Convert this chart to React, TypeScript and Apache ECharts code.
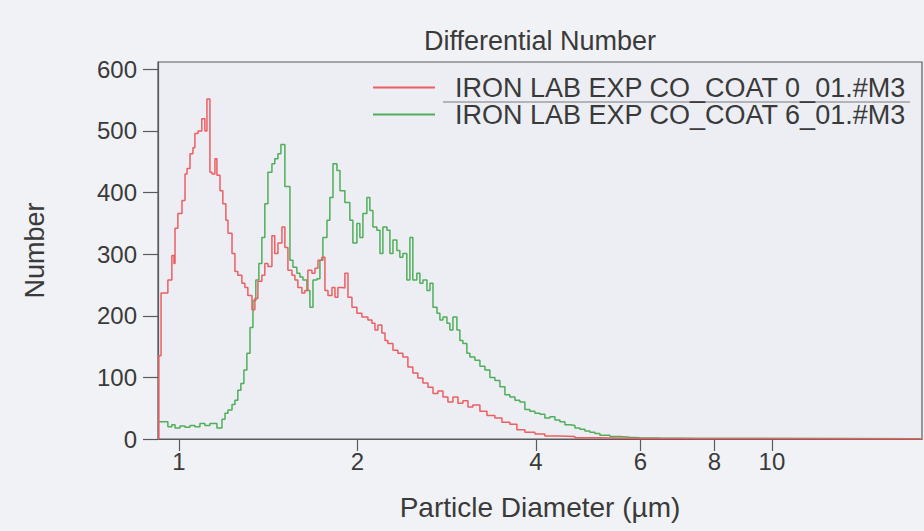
import React, { useEffect, useRef } from "react";
import * as echarts from "echarts";

// Left bin edges (µm) and counts
const diameterRed = [
  0.922, 0.925, 0.933, 0.958, 0.973, 0.981, 0.985, 0.996, 1.012, 1.024, 1.032, 1.044,
  1.056, 1.064, 1.077, 1.093, 1.106, 1.115, 1.128, 1.137, 1.150, 1.159, 1.173, 1.186,
  1.200, 1.210, 1.229, 1.243, 1.257, 1.277, 1.292, 1.307, 1.328, 1.343, 1.359, 1.380,
  1.396, 1.413, 1.435, 1.451, 1.469, 1.492, 1.509, 1.527, 1.551, 1.569, 1.587, 1.612,
  1.631, 1.650, 1.676, 1.696, 1.716, 1.742, 1.763, 1.784, 1.812, 1.833, 1.854, 1.883,
  1.905, 1.928, 1.958, 1.996, 2.035, 2.083, 2.116, 2.141, 2.166, 2.199, 2.226, 2.251,
  2.296, 2.340, 2.386, 2.433, 2.480, 2.529, 2.579, 2.630, 2.682, 2.734, 2.788, 2.842,
  2.898, 2.955, 3.012, 3.072, 3.131, 3.218, 3.307, 3.411, 3.505, 3.615, 3.715, 3.832,
  3.984, 4.141, 4.390, 4.654, 5.128, 5.991, 17.91,
];
const numberRed = [
  0, 135, 237, 258, 298, 285, 342, 366, 387, 430, 439, 463,
  473, 496, 500, 520, 500, 552, 433, 430, 455, 428, 403, 382,
  355, 334, 301, 272, 266, 253, 246, 233, 210, 228, 256, 266,
  285, 280, 330, 301, 318, 344, 311, 274, 266, 258, 246, 237,
  241, 274, 269, 277, 290, 295, 241, 233, 246, 230, 246, 245,
  269, 230, 214, 204, 198, 193, 188, 177, 185, 172, 160, 155,
  144, 139, 133, 117, 107, 99, 91, 84, 74, 78, 68, 60,
  68, 58, 62, 52, 55, 45, 38, 34, 27, 24, 15, 11,
  8, 5, 4, 2, 1, 0.5, 0.5,
];

const diameterGreen = [
  0.922, 0.958, 0.973, 0.985, 1.004, 1.024, 1.044, 1.064, 1.085, 1.106, 1.128, 1.159,
  1.182, 1.196, 1.210, 1.229, 1.243, 1.257, 1.272, 1.287, 1.302, 1.318, 1.333, 1.348,
  1.364, 1.380, 1.396, 1.413, 1.435, 1.451, 1.469, 1.486, 1.509, 1.539, 1.557, 1.581,
  1.600, 1.619, 1.644, 1.663, 1.683, 1.709, 1.729, 1.749, 1.777, 1.797, 1.819, 1.847,
  1.869, 1.905, 1.942, 1.965, 1.996, 2.019, 2.043, 2.075, 2.099, 2.124, 2.157, 2.183,
  2.208, 2.243, 2.269, 2.296, 2.331, 2.358, 2.386, 2.423, 2.452, 2.480, 2.519, 2.549,
  2.579, 2.620, 2.651, 2.682, 2.724, 2.755, 2.788, 2.831, 2.864, 2.898, 2.943, 2.977,
  3.012, 3.059, 3.095, 3.156, 3.218, 3.281, 3.345, 3.411, 3.478, 3.546, 3.615, 3.687,
  3.758, 3.832, 3.907, 3.984, 4.062, 4.141, 4.223, 4.306, 4.390, 4.476, 4.564, 4.654,
  4.745, 4.838, 4.933, 5.029, 5.128, 5.332, 5.543, 5.762, 5.991, 6.474, 7.561, 17.91,
];
const numberGreen = [
  28, 20, 23, 18, 21, 19, 22, 20, 25, 22, 25, 18,
  32, 42, 47, 56, 63, 79, 90, 112, 139, 181, 225, 258,
  285, 327, 382, 433, 447, 455, 463, 478, 410, 290, 279, 269,
  263, 258, 241, 214, 258, 260, 290, 327, 355, 392, 447, 436,
  403, 384, 355, 318, 350, 327, 366, 392, 371, 344, 339, 301,
  344, 339, 301, 323, 306, 295, 301, 258, 327, 258, 269, 253,
  258, 241, 253, 214, 204, 193, 198, 188, 177, 198, 177, 160,
  155, 139, 133, 128, 118, 112, 100, 95, 85, 72, 68, 63,
  60, 48, 45, 42, 40, 34, 36, 31, 28, 23, 22, 18,
  16, 13, 11, 9, 6, 4, 3, 2, 1.5, 1, 0.5, 0.5,
];

const seriesNames = ["IRON LAB EXP CO_COAT 0_01.#M3", "IRON LAB EXP CO_COAT 6_01.#M3"];
const xTickValues = [1, 2, 4, 6, 8, 10];
const yTickValues = [0, 100, 200, 300, 400, 500, 600];
const xRange = [0.922, 17.91];
const yRange = [0, 612];

const FONT = "'Liberation Sans', Arial, Helvetica, sans-serif";
const TEXT = "#3a3a3a";
const RED = "#ec5f62";
const GREEN = "#4fae5a";

export default function App() {
  const ref = useRef<HTMLDivElement>(null);
  useEffect(() => {
    document.body.style.margin = "0";
    if (!ref.current) return;
    const chart = echarts.init(ref.current, null, { renderer: "svg" });
    const toPts = (ds: number[], vs: number[]) => ds.map((d, i) => [Math.log10(d), vs[i]]);
    chart.setOption({
      animation: false,
      backgroundColor: "#f1f2f6",
      title: {
        text: "Differential Number",
        left: 535,
        top: 22,
        textAlign: "center",
        textStyle: { fontFamily: FONT, fontSize: 27, fontWeight: "normal", color: TEXT },
      },
      legend: {
        orient: "vertical",
        left: 368,
        top: 69,
        itemWidth: 62,
        itemHeight: 2,
        itemGap: 0,
        icon: "rect",
        data: seriesNames,
        textStyle: { fontFamily: FONT, fontSize: 27, color: TEXT, padding: [0, 0, 0, 15], lineHeight: 25 },
      },
      grid: {
        left: 158,
        right: 2,
        top: 62,
        bottom: 92,
        show: true,
        backgroundColor: "#eceef4",
        borderColor: "#5a5a5a",
        borderWidth: 1.2,
      },
      xAxis: {
        type: "value",
        min: Math.log10(xRange[0]),
        max: Math.log10(xRange[1]),
        name: "Particle Diameter (µm)",
        nameLocation: "middle",
        nameGap: 54,
        nameTextStyle: { fontFamily: FONT, fontSize: 28, color: TEXT },
        axisLine: { onZero: false, lineStyle: { color: "#5a5a5a", width: 1.2 } },
        axisTick: {
          length: 12,
          inside: false,
          customValues: xTickValues.map((v) => Math.log10(v)),
          lineStyle: { color: "#5a5a5a", width: 1.2 },
        },
        axisLabel: {
          customValues: xTickValues.map((v) => Math.log10(v)),
          formatter: (v: number) => String(Math.round(Math.pow(10, v))),
          fontFamily: FONT,
          fontSize: 24,
          color: TEXT,
          margin: 10,
        },
        splitLine: { show: false },
      },
      yAxis: {
        type: "value",
        min: yRange[0],
        max: yRange[1],
        name: "Number",
        nameLocation: "middle",
        nameGap: 110,
        nameTextStyle: { fontFamily: FONT, fontSize: 27, color: TEXT },
        axisLine: { show: true, onZero: false, lineStyle: { color: "#5a5a5a", width: 1.2 } },
        axisTick: {
          show: true,
          length: 15,
          customValues: yTickValues,
          lineStyle: { color: "#5a5a5a", width: 1.2 },
        },
        axisLabel: {
          customValues: yTickValues,
          fontFamily: FONT,
          fontSize: 24,
          color: TEXT,
          margin: 21,
        },
        splitLine: { show: false },
      },
      series: [
        {
          name: seriesNames[0],
          type: "line",
          step: "end",
          symbol: "none",
          data: toPts(diameterRed, numberRed),
          lineStyle: { color: RED, width: 1.5 },
          itemStyle: { color: RED },
          z: 3,
        },
        {
          name: seriesNames[1],
          type: "line",
          step: "end",
          symbol: "none",
          data: toPts(diameterGreen, numberGreen),
          lineStyle: { color: GREEN, width: 1.5 },
          itemStyle: { color: GREEN },
          z: 2,
        },
      ],
      graphic: [
        {
          type: "line",
          shape: { x1: 443, y1: 102, x2: 910, y2: 102 },
          style: { stroke: "#7a7a7a", lineWidth: 1 },
          silent: true,
        },
      ],
    });
    return () => chart.dispose();
  }, []);
  return <div ref={ref} style={{ width: 924, height: 531 }} />;
}
